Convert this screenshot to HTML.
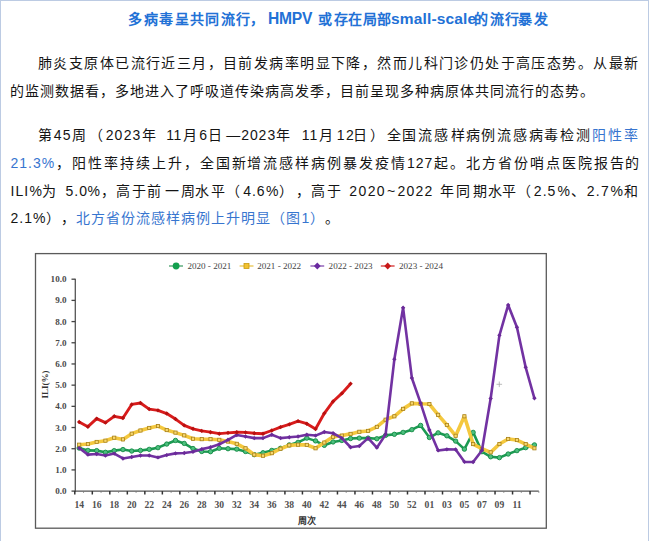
<!DOCTYPE html>
<html lang="zh-CN"><head><meta charset="utf-8">
<style>
html,body{margin:0;padding:0;}
body{text-spacing-trim:space-all;width:650px;height:541px;overflow:hidden;background:#fff;position:relative;font-family:"Liberation Sans",sans-serif;color:#222;}
.bl{position:absolute;left:0;top:0;width:1px;height:541px;background:#bccbe3;}
.bt{position:absolute;left:0;top:0;width:649px;height:1px;background:#bccbe3;}
.br{position:absolute;left:648px;top:0;width:1px;height:541px;background:#bccbe3;}
.t{position:absolute;left:0;top:0;width:650px;text-align:left;white-space:nowrap;}
.title{position:absolute;left:128px;top:9px;font-size:14px;font-weight:bold;color:#2271d6;white-space:nowrap;line-height:18px;}
.ln{position:absolute;font-size:14px;letter-spacing:1px;line-height:20px;white-space:nowrap;color:#141414;}
.j{text-align:justify;text-align-last:justify;}
.al{position:absolute;left:0;width:650px;height:20px;font-size:14px;line-height:20px;color:#141414;}
.al span{position:absolute;top:0;white-space:pre;}
.b{color:#3775cf;}
.chart{position:absolute;left:0;top:0;}
.yl{font-family:"Liberation Serif",serif;font-size:9.1px;font-weight:bold;fill:#4a4a4a;text-anchor:end;}
.xl{font-family:"Liberation Serif",serif;font-size:9.6px;font-weight:bold;fill:#505050;text-anchor:middle;}
.xt{font-family:"Liberation Serif",serif;font-size:9px;font-weight:bold;fill:#333;text-anchor:middle;}
.yt{font-family:"Liberation Serif",serif;font-size:9px;font-weight:bold;fill:#333;text-anchor:middle;}
.lg{font-family:"Liberation Serif",serif;font-size:9.1px;fill:#444;}
</style></head><body>
<div class="bl"></div><div class="bt"></div><div class="br"></div>
<div class="title" style="left:127.9px;top:10.2px">多</div><div class="title" style="left:144.1px;top:10.2px">病</div><div class="title" style="left:159.4px;top:10.2px">毒</div><div class="title" style="left:174.9px;top:10.2px">呈</div><div class="title" style="left:190.3px;top:10.2px">共</div><div class="title" style="left:205.0px;top:10.2px">同</div><div class="title" style="left:220.7px;top:10.2px">流</div><div class="title" style="left:236.4px;top:10.2px">行</div><div class="title" style="left:250.1px;top:10.2px">，</div><div class="title" style="left:317.5px;top:10.2px">或</div><div class="title" style="left:333.7px;top:10.2px">存</div><div class="title" style="left:348.4px;top:10.2px">在</div><div class="title" style="left:363.1px;top:10.2px">局</div><div class="title" style="left:377.4px;top:10.2px">部</div><div class="title" style="left:473.7px;top:10.2px">的</div><div class="title" style="left:489.5px;top:10.2px">流</div><div class="title" style="left:504.7px;top:10.2px">行</div><div class="title" style="left:518.0px;top:10.2px">暴</div><div class="title" style="left:533.7px;top:10.2px">发</div>
<div class="title" style="left:268px;top:9.7px;font-size:15.6px;letter-spacing:-0.2px">HMPV</div>
<div class="title" style="left:391.1px;top:10.4px;font-size:15.5px;letter-spacing:0.15px">small-scale</div>
<div class="ln j" style="left:38px;top:53px;width:601px">肺炎支原体已流行近三月，目前发病率明显下降，然而儿科门诊仍处于高压态势。从最新</div>
<div class="ln" style="left:10px;top:80.6px;">的监测数据看，多地进入了呼吸道传染病高发季，目前呈现多种病原体共同流行的态势。</div>
<div class="al" style="top:125px"><span style="left:37.6px">第</span><span style="left:53.84px">4</span><span style="left:62.72px">5</span><span style="left:71.6px">周</span><span style="left:89px">（</span><span style="left:105.64px">2</span><span style="left:114.42px">0</span><span style="left:123.72px">2</span><span style="left:132.6px">3</span><span style="left:141.58px">年</span><span style="left:166.31px">1</span><span style="left:173.57px">1</span><span style="left:182.84px">月</span><span style="left:199.14px">6</span><span style="left:208.42px">日</span><span style="left:226.22px">—</span><span style="left:241.22px">2</span><span style="left:249.9px">0</span><span style="left:258.58px">2</span><span style="left:267.38px">3</span><span style="left:276.16px">年</span><span style="left:301.78px">1</span><span style="left:309.55px">1</span><span style="left:318.82px">月</span><span style="left:336.7px">1</span><span style="left:345.99px">2</span><span style="left:353.18px">日</span><span style="left:370.46px">）</span><span style="left:386.61px">全</span><span style="left:402.25px">国</span><span style="left:418.39px">流</span><span style="left:434.05px">感</span><span style="left:450.69px">样</span><span style="left:465.83px">病</span><span style="left:480.87px">例</span><span style="left:497.03px">流</span><span style="left:512.67px">感</span><span style="left:528.71px">病</span><span style="left:544.05px">毒</span><span style="left:560.21px">检</span><span style="left:575.55px">测</span><span class="b" style="left:591.7px">阳</span><span class="b" style="left:607.84px">性</span><span class="b" style="left:623.98px">率</span></div>
<div class="ln j" style="left:10.5px;top:153px;width:630px"><span class="b">21.3%</span>，阳性率持续上升，全国新增流感样病例暴发疫情127起。北方省份哨点医院报告的</div>
<div class="al" style="top:181px"><span style="left:10.5px">I</span><span style="left:15.38px">L</span><span style="left:24.17px">I</span><span style="left:29.56px">%</span><span style="left:42.0px">为</span><span style="left:65.52px">5</span><span style="left:74.31px">.</span><span style="left:79.2px">0</span><span style="left:87.48px">%</span><span style="left:101.44px">，</span><span style="left:116.42px">高</span><span style="left:131.85px">于</span><span style="left:147.39px">前</span><span style="left:165.04px">一</span><span style="left:181.17px">周</span><span style="left:194.92px">水</span><span style="left:211.07px">平</span><span style="left:226.0px">（</span><span style="left:243.14px">4</span><span style="left:251.93px">.</span><span style="left:256.82px">6</span><span style="left:266.11px">%</span><span style="left:278.95px">）</span><span style="left:295.84px">，</span><span style="left:311.07px">高</span><span style="left:327.12px">于</span><span style="left:349.19px">2</span><span style="left:358.47px">0</span><span style="left:367.67px">2</span><span style="left:376.85px">0</span><span style="left:386.93px">~</span><span style="left:397.52px">2</span><span style="left:406.6px">0</span><span style="left:415.58px">2</span><span style="left:424.58px">2</span><span style="left:440.4px">年</span><span style="left:455.83px">同</span><span style="left:472.57px">期</span><span style="left:487.91px">水</span><span style="left:502.35px">平</span><span style="left:516.8px">（</span><span style="left:533.83px">2</span><span style="left:542.73px">.</span><span style="left:547.62px">5</span><span style="left:557.5px">%</span><span style="left:570.85px">、</span><span style="left:586.73px">2</span><span style="left:595.81px">.</span><span style="left:601.0px">7</span><span style="left:610.4px">%</span><span style="left:623.84px">和</span></div>
<div class="ln" style="left:10.5px;top:208px;">2.1%），<span class="b">北方省份流感样病例上升明显（图1）</span>。</div>
<svg class="chart" width="650" height="541" viewBox="0 0 650 541">
<rect x="35.5" y="253.6" width="510.8" height="274.6" fill="#fff" stroke="#5a5a5a" stroke-width="1.3"/>
<line x1="75.3" y1="278.70" x2="75.3" y2="491.70" stroke="#555" stroke-width="1.3"/>
<line x1="74.80" y1="491.10" x2="538.82" y2="491.10" stroke="#555" stroke-width="1.3"/>
<line x1="71.5" y1="491.10" x2="75.3" y2="491.10" stroke="#444" stroke-width="1.3"/>
<text x="66.5" y="494.20" class="yl">0.0</text>
<line x1="71.5" y1="469.91" x2="75.3" y2="469.91" stroke="#444" stroke-width="1.3"/>
<text x="66.5" y="473.01" class="yl">1.0</text>
<line x1="71.5" y1="448.72" x2="75.3" y2="448.72" stroke="#444" stroke-width="1.3"/>
<text x="66.5" y="451.82" class="yl">2.0</text>
<line x1="71.5" y1="427.53" x2="75.3" y2="427.53" stroke="#444" stroke-width="1.3"/>
<text x="66.5" y="430.63" class="yl">3.0</text>
<line x1="71.5" y1="406.34" x2="75.3" y2="406.34" stroke="#444" stroke-width="1.3"/>
<text x="66.5" y="409.44" class="yl">4.0</text>
<line x1="71.5" y1="385.15" x2="75.3" y2="385.15" stroke="#444" stroke-width="1.3"/>
<text x="66.5" y="388.25" class="yl">5.0</text>
<line x1="71.5" y1="363.96" x2="75.3" y2="363.96" stroke="#444" stroke-width="1.3"/>
<text x="66.5" y="367.06" class="yl">6.0</text>
<line x1="71.5" y1="342.77" x2="75.3" y2="342.77" stroke="#444" stroke-width="1.3"/>
<text x="66.5" y="345.87" class="yl">7.0</text>
<line x1="71.5" y1="321.58" x2="75.3" y2="321.58" stroke="#444" stroke-width="1.3"/>
<text x="66.5" y="324.68" class="yl">8.0</text>
<line x1="71.5" y1="300.39" x2="75.3" y2="300.39" stroke="#444" stroke-width="1.3"/>
<text x="66.5" y="303.49" class="yl">9.0</text>
<line x1="71.5" y1="279.20" x2="75.3" y2="279.20" stroke="#444" stroke-width="1.3"/>
<text x="66.5" y="282.30" class="yl">10.0</text>
<line x1="74.80" y1="491.10" x2="74.80" y2="494.50" stroke="#333" stroke-width="1.5"/>
<line x1="83.55" y1="491.10" x2="83.55" y2="492.90" stroke="#777" stroke-width="0.8"/>
<line x1="92.31" y1="491.10" x2="92.31" y2="494.50" stroke="#333" stroke-width="1.5"/>
<line x1="101.06" y1="491.10" x2="101.06" y2="492.90" stroke="#777" stroke-width="0.8"/>
<line x1="109.82" y1="491.10" x2="109.82" y2="494.50" stroke="#333" stroke-width="1.5"/>
<line x1="118.58" y1="491.10" x2="118.58" y2="492.90" stroke="#777" stroke-width="0.8"/>
<line x1="127.33" y1="491.10" x2="127.33" y2="494.50" stroke="#333" stroke-width="1.5"/>
<line x1="136.09" y1="491.10" x2="136.09" y2="492.90" stroke="#777" stroke-width="0.8"/>
<line x1="144.84" y1="491.10" x2="144.84" y2="494.50" stroke="#333" stroke-width="1.5"/>
<line x1="153.59" y1="491.10" x2="153.59" y2="492.90" stroke="#777" stroke-width="0.8"/>
<line x1="162.35" y1="491.10" x2="162.35" y2="494.50" stroke="#333" stroke-width="1.5"/>
<line x1="171.11" y1="491.10" x2="171.11" y2="492.90" stroke="#777" stroke-width="0.8"/>
<line x1="179.86" y1="491.10" x2="179.86" y2="494.50" stroke="#333" stroke-width="1.5"/>
<line x1="188.62" y1="491.10" x2="188.62" y2="492.90" stroke="#777" stroke-width="0.8"/>
<line x1="197.37" y1="491.10" x2="197.37" y2="494.50" stroke="#333" stroke-width="1.5"/>
<line x1="206.12" y1="491.10" x2="206.12" y2="492.90" stroke="#777" stroke-width="0.8"/>
<line x1="214.88" y1="491.10" x2="214.88" y2="494.50" stroke="#333" stroke-width="1.5"/>
<line x1="223.63" y1="491.10" x2="223.63" y2="492.90" stroke="#777" stroke-width="0.8"/>
<line x1="232.39" y1="491.10" x2="232.39" y2="494.50" stroke="#333" stroke-width="1.5"/>
<line x1="241.15" y1="491.10" x2="241.15" y2="492.90" stroke="#777" stroke-width="0.8"/>
<line x1="249.90" y1="491.10" x2="249.90" y2="494.50" stroke="#333" stroke-width="1.5"/>
<line x1="258.66" y1="491.10" x2="258.66" y2="492.90" stroke="#777" stroke-width="0.8"/>
<line x1="267.41" y1="491.10" x2="267.41" y2="494.50" stroke="#333" stroke-width="1.5"/>
<line x1="276.17" y1="491.10" x2="276.17" y2="492.90" stroke="#777" stroke-width="0.8"/>
<line x1="284.92" y1="491.10" x2="284.92" y2="494.50" stroke="#333" stroke-width="1.5"/>
<line x1="293.68" y1="491.10" x2="293.68" y2="492.90" stroke="#777" stroke-width="0.8"/>
<line x1="302.43" y1="491.10" x2="302.43" y2="494.50" stroke="#333" stroke-width="1.5"/>
<line x1="311.19" y1="491.10" x2="311.19" y2="492.90" stroke="#777" stroke-width="0.8"/>
<line x1="319.94" y1="491.10" x2="319.94" y2="494.50" stroke="#333" stroke-width="1.5"/>
<line x1="328.69" y1="491.10" x2="328.69" y2="492.90" stroke="#777" stroke-width="0.8"/>
<line x1="337.45" y1="491.10" x2="337.45" y2="494.50" stroke="#333" stroke-width="1.5"/>
<line x1="346.21" y1="491.10" x2="346.21" y2="492.90" stroke="#777" stroke-width="0.8"/>
<line x1="354.96" y1="491.10" x2="354.96" y2="494.50" stroke="#333" stroke-width="1.5"/>
<line x1="363.72" y1="491.10" x2="363.72" y2="492.90" stroke="#777" stroke-width="0.8"/>
<line x1="372.47" y1="491.10" x2="372.47" y2="494.50" stroke="#333" stroke-width="1.5"/>
<line x1="381.23" y1="491.10" x2="381.23" y2="492.90" stroke="#777" stroke-width="0.8"/>
<line x1="389.98" y1="491.10" x2="389.98" y2="494.50" stroke="#333" stroke-width="1.5"/>
<line x1="398.74" y1="491.10" x2="398.74" y2="492.90" stroke="#777" stroke-width="0.8"/>
<line x1="407.49" y1="491.10" x2="407.49" y2="494.50" stroke="#333" stroke-width="1.5"/>
<line x1="416.25" y1="491.10" x2="416.25" y2="492.90" stroke="#777" stroke-width="0.8"/>
<line x1="425.00" y1="491.10" x2="425.00" y2="494.50" stroke="#333" stroke-width="1.5"/>
<line x1="433.76" y1="491.10" x2="433.76" y2="492.90" stroke="#777" stroke-width="0.8"/>
<line x1="442.51" y1="491.10" x2="442.51" y2="494.50" stroke="#333" stroke-width="1.5"/>
<line x1="451.27" y1="491.10" x2="451.27" y2="492.90" stroke="#777" stroke-width="0.8"/>
<line x1="460.02" y1="491.10" x2="460.02" y2="494.50" stroke="#333" stroke-width="1.5"/>
<line x1="468.78" y1="491.10" x2="468.78" y2="492.90" stroke="#777" stroke-width="0.8"/>
<line x1="477.53" y1="491.10" x2="477.53" y2="494.50" stroke="#333" stroke-width="1.5"/>
<line x1="486.29" y1="491.10" x2="486.29" y2="492.90" stroke="#777" stroke-width="0.8"/>
<line x1="495.04" y1="491.10" x2="495.04" y2="494.50" stroke="#333" stroke-width="1.5"/>
<line x1="503.80" y1="491.10" x2="503.80" y2="492.90" stroke="#777" stroke-width="0.8"/>
<line x1="512.55" y1="491.10" x2="512.55" y2="494.50" stroke="#333" stroke-width="1.5"/>
<line x1="521.31" y1="491.10" x2="521.31" y2="492.90" stroke="#777" stroke-width="0.8"/>
<line x1="530.06" y1="491.10" x2="530.06" y2="494.50" stroke="#333" stroke-width="1.5"/>
<line x1="538.82" y1="491.10" x2="538.82" y2="492.90" stroke="#777" stroke-width="0.8"/>
<text x="79.18" y="507.90" class="xl">14</text>
<text x="96.69" y="507.90" class="xl">16</text>
<text x="114.20" y="507.90" class="xl">18</text>
<text x="131.71" y="507.90" class="xl">20</text>
<text x="149.22" y="507.90" class="xl">22</text>
<text x="166.73" y="507.90" class="xl">24</text>
<text x="184.24" y="507.90" class="xl">26</text>
<text x="201.75" y="507.90" class="xl">28</text>
<text x="219.26" y="507.90" class="xl">30</text>
<text x="236.77" y="507.90" class="xl">32</text>
<text x="254.28" y="507.90" class="xl">34</text>
<text x="271.79" y="507.90" class="xl">36</text>
<text x="289.30" y="507.90" class="xl">38</text>
<text x="306.81" y="507.90" class="xl">40</text>
<text x="324.32" y="507.90" class="xl">42</text>
<text x="341.83" y="507.90" class="xl">44</text>
<text x="359.34" y="507.90" class="xl">46</text>
<text x="376.85" y="507.90" class="xl">48</text>
<text x="394.36" y="507.90" class="xl">50</text>
<text x="411.87" y="507.90" class="xl">52</text>
<text x="429.38" y="507.90" class="xl">01</text>
<text x="446.89" y="507.90" class="xl">03</text>
<text x="464.40" y="507.90" class="xl">05</text>
<text x="481.91" y="507.90" class="xl">07</text>
<text x="499.42" y="507.90" class="xl">09</text>
<text x="516.93" y="507.90" class="xl">11</text>
<text x="307" y="523.5" class="xt">周次</text>
<text transform="translate(47.6,384.4) rotate(-90)" class="yt">ILI(%)</text>
<line x1="169" y1="266" x2="183" y2="266" stroke="#3a9a60" stroke-width="1.2"/><circle cx="176.1" cy="266" r="3.4" fill="#12a04e"/><text x="187.4" y="269.3" class="lg">2020 - 2021</text>
<line x1="239.6" y1="266" x2="253.5" y2="266" stroke="#e8c040" stroke-width="1.2"/><rect x="244" y="263.5" width="5" height="5" fill="#f2c230" stroke="#c89a10" stroke-width="0.8"/><text x="257.2" y="269.3" class="lg">2021 - 2022</text>
<line x1="310.4" y1="266" x2="324.2" y2="266" stroke="#7a40a8" stroke-width="1.2"/><path d="M317.3 262.6 L320.7 266 L317.3 269.4 L313.9 266 Z" fill="#6a2aa0"/><text x="328.6" y="269.3" class="lg">2022 - 2023</text>
<line x1="380.8" y1="266" x2="394.6" y2="266" stroke="#d02020" stroke-width="1.2"/><path d="M387.7 262.6 L391.1 266 L387.7 269.4 L384.3 266 Z" fill="#c81818"/><text x="399" y="269.3" class="lg">2023 - 2024</text>
<polyline points="79.18,448.08 87.93,450.42 96.69,450.63 105.44,452.32 114.20,450.63 122.95,449.57 131.71,451.05 140.46,450.42 149.22,449.36 157.97,447.66 166.73,444.06 175.48,440.46 184.24,443.42 192.99,448.51 201.75,451.47 210.50,451.69 219.26,448.30 228.01,448.72 236.77,449.14 245.52,451.47 254.28,454.65 263.03,452.75 271.79,450.42 280.54,448.30 289.30,444.91 298.05,442.36 306.81,438.12 315.56,440.88 324.32,445.33 333.07,441.94 341.83,440.46 350.58,438.55 359.34,438.12 368.09,438.12 376.85,438.76 385.60,435.37 394.36,434.31 403.11,432.40 411.87,429.65 420.62,425.41 429.38,437.49 438.13,432.83 446.89,435.79 455.64,441.09 464.40,449.14 473.15,432.40 481.91,451.69 490.66,456.77 499.42,457.62 508.17,454.02 516.93,450.63 525.68,447.66 534.44,444.91" fill="none" stroke="#1c9a52" stroke-width="2.6" stroke-linejoin="round"/>
<circle cx="79.18" cy="448.08" r="2.2" fill="#4cbf7e" stroke="#138a44" stroke-width="0.9"/>
<circle cx="87.93" cy="450.42" r="2.2" fill="#4cbf7e" stroke="#138a44" stroke-width="0.9"/>
<circle cx="96.69" cy="450.63" r="2.2" fill="#4cbf7e" stroke="#138a44" stroke-width="0.9"/>
<circle cx="105.44" cy="452.32" r="2.2" fill="#4cbf7e" stroke="#138a44" stroke-width="0.9"/>
<circle cx="114.20" cy="450.63" r="2.2" fill="#4cbf7e" stroke="#138a44" stroke-width="0.9"/>
<circle cx="122.95" cy="449.57" r="2.2" fill="#4cbf7e" stroke="#138a44" stroke-width="0.9"/>
<circle cx="131.71" cy="451.05" r="2.2" fill="#4cbf7e" stroke="#138a44" stroke-width="0.9"/>
<circle cx="140.46" cy="450.42" r="2.2" fill="#4cbf7e" stroke="#138a44" stroke-width="0.9"/>
<circle cx="149.22" cy="449.36" r="2.2" fill="#4cbf7e" stroke="#138a44" stroke-width="0.9"/>
<circle cx="157.97" cy="447.66" r="2.2" fill="#4cbf7e" stroke="#138a44" stroke-width="0.9"/>
<circle cx="166.73" cy="444.06" r="2.2" fill="#4cbf7e" stroke="#138a44" stroke-width="0.9"/>
<circle cx="175.48" cy="440.46" r="2.2" fill="#4cbf7e" stroke="#138a44" stroke-width="0.9"/>
<circle cx="184.24" cy="443.42" r="2.2" fill="#4cbf7e" stroke="#138a44" stroke-width="0.9"/>
<circle cx="192.99" cy="448.51" r="2.2" fill="#4cbf7e" stroke="#138a44" stroke-width="0.9"/>
<circle cx="201.75" cy="451.47" r="2.2" fill="#4cbf7e" stroke="#138a44" stroke-width="0.9"/>
<circle cx="210.50" cy="451.69" r="2.2" fill="#4cbf7e" stroke="#138a44" stroke-width="0.9"/>
<circle cx="219.26" cy="448.30" r="2.2" fill="#4cbf7e" stroke="#138a44" stroke-width="0.9"/>
<circle cx="228.01" cy="448.72" r="2.2" fill="#4cbf7e" stroke="#138a44" stroke-width="0.9"/>
<circle cx="236.77" cy="449.14" r="2.2" fill="#4cbf7e" stroke="#138a44" stroke-width="0.9"/>
<circle cx="245.52" cy="451.47" r="2.2" fill="#4cbf7e" stroke="#138a44" stroke-width="0.9"/>
<circle cx="254.28" cy="454.65" r="2.2" fill="#4cbf7e" stroke="#138a44" stroke-width="0.9"/>
<circle cx="263.03" cy="452.75" r="2.2" fill="#4cbf7e" stroke="#138a44" stroke-width="0.9"/>
<circle cx="271.79" cy="450.42" r="2.2" fill="#4cbf7e" stroke="#138a44" stroke-width="0.9"/>
<circle cx="280.54" cy="448.30" r="2.2" fill="#4cbf7e" stroke="#138a44" stroke-width="0.9"/>
<circle cx="289.30" cy="444.91" r="2.2" fill="#4cbf7e" stroke="#138a44" stroke-width="0.9"/>
<circle cx="298.05" cy="442.36" r="2.2" fill="#4cbf7e" stroke="#138a44" stroke-width="0.9"/>
<circle cx="306.81" cy="438.12" r="2.2" fill="#4cbf7e" stroke="#138a44" stroke-width="0.9"/>
<circle cx="315.56" cy="440.88" r="2.2" fill="#4cbf7e" stroke="#138a44" stroke-width="0.9"/>
<circle cx="324.32" cy="445.33" r="2.2" fill="#4cbf7e" stroke="#138a44" stroke-width="0.9"/>
<circle cx="333.07" cy="441.94" r="2.2" fill="#4cbf7e" stroke="#138a44" stroke-width="0.9"/>
<circle cx="341.83" cy="440.46" r="2.2" fill="#4cbf7e" stroke="#138a44" stroke-width="0.9"/>
<circle cx="350.58" cy="438.55" r="2.2" fill="#4cbf7e" stroke="#138a44" stroke-width="0.9"/>
<circle cx="359.34" cy="438.12" r="2.2" fill="#4cbf7e" stroke="#138a44" stroke-width="0.9"/>
<circle cx="368.09" cy="438.12" r="2.2" fill="#4cbf7e" stroke="#138a44" stroke-width="0.9"/>
<circle cx="376.85" cy="438.76" r="2.2" fill="#4cbf7e" stroke="#138a44" stroke-width="0.9"/>
<circle cx="385.60" cy="435.37" r="2.2" fill="#4cbf7e" stroke="#138a44" stroke-width="0.9"/>
<circle cx="394.36" cy="434.31" r="2.2" fill="#4cbf7e" stroke="#138a44" stroke-width="0.9"/>
<circle cx="403.11" cy="432.40" r="2.2" fill="#4cbf7e" stroke="#138a44" stroke-width="0.9"/>
<circle cx="411.87" cy="429.65" r="2.2" fill="#4cbf7e" stroke="#138a44" stroke-width="0.9"/>
<circle cx="420.62" cy="425.41" r="2.2" fill="#4cbf7e" stroke="#138a44" stroke-width="0.9"/>
<circle cx="429.38" cy="437.49" r="2.2" fill="#4cbf7e" stroke="#138a44" stroke-width="0.9"/>
<circle cx="438.13" cy="432.83" r="2.2" fill="#4cbf7e" stroke="#138a44" stroke-width="0.9"/>
<circle cx="446.89" cy="435.79" r="2.2" fill="#4cbf7e" stroke="#138a44" stroke-width="0.9"/>
<circle cx="455.64" cy="441.09" r="2.2" fill="#4cbf7e" stroke="#138a44" stroke-width="0.9"/>
<circle cx="464.40" cy="449.14" r="2.2" fill="#4cbf7e" stroke="#138a44" stroke-width="0.9"/>
<circle cx="473.15" cy="432.40" r="2.2" fill="#4cbf7e" stroke="#138a44" stroke-width="0.9"/>
<circle cx="481.91" cy="451.69" r="2.2" fill="#4cbf7e" stroke="#138a44" stroke-width="0.9"/>
<circle cx="490.66" cy="456.77" r="2.2" fill="#4cbf7e" stroke="#138a44" stroke-width="0.9"/>
<circle cx="499.42" cy="457.62" r="2.2" fill="#4cbf7e" stroke="#138a44" stroke-width="0.9"/>
<circle cx="508.17" cy="454.02" r="2.2" fill="#4cbf7e" stroke="#138a44" stroke-width="0.9"/>
<circle cx="516.93" cy="450.63" r="2.2" fill="#4cbf7e" stroke="#138a44" stroke-width="0.9"/>
<circle cx="525.68" cy="447.66" r="2.2" fill="#4cbf7e" stroke="#138a44" stroke-width="0.9"/>
<circle cx="534.44" cy="444.91" r="2.2" fill="#4cbf7e" stroke="#138a44" stroke-width="0.9"/>
<polyline points="79.18,444.69 87.93,444.06 96.69,441.94 105.44,440.67 114.20,437.70 122.95,439.40 131.71,433.68 140.46,430.50 149.22,427.95 157.97,426.05 166.73,430.07 175.48,432.62 184.24,435.37 192.99,438.76 201.75,439.18 210.50,439.18 219.26,439.82 228.01,441.52 236.77,443.85 245.52,448.30 254.28,454.65 263.03,455.71 271.79,453.17 280.54,448.72 289.30,445.33 298.05,444.69 306.81,444.91 315.56,448.30 324.32,442.57 333.07,436.85 341.83,435.58 350.58,433.89 359.34,431.77 368.09,430.92 376.85,426.89 385.60,419.69 394.36,416.30 403.11,408.88 411.87,403.37 420.62,403.80 429.38,404.01 438.13,414.82 446.89,424.99 455.64,435.79 464.40,416.30 473.15,444.06 481.91,448.72 490.66,452.32 499.42,444.06 508.17,438.97 516.93,440.03 525.68,444.06 534.44,448.30" fill="none" stroke="#f4c83e" stroke-width="3.6" stroke-linejoin="round"/>
<rect x="77.58" y="443.09" width="3.2" height="3.2" fill="#f8d870" stroke="#a8801a" stroke-width="0.8"/>
<rect x="86.33" y="442.46" width="3.2" height="3.2" fill="#f8d870" stroke="#a8801a" stroke-width="0.8"/>
<rect x="95.09" y="440.34" width="3.2" height="3.2" fill="#f8d870" stroke="#a8801a" stroke-width="0.8"/>
<rect x="103.84" y="439.07" width="3.2" height="3.2" fill="#f8d870" stroke="#a8801a" stroke-width="0.8"/>
<rect x="112.60" y="436.10" width="3.2" height="3.2" fill="#f8d870" stroke="#a8801a" stroke-width="0.8"/>
<rect x="121.35" y="437.80" width="3.2" height="3.2" fill="#f8d870" stroke="#a8801a" stroke-width="0.8"/>
<rect x="130.11" y="432.08" width="3.2" height="3.2" fill="#f8d870" stroke="#a8801a" stroke-width="0.8"/>
<rect x="138.86" y="428.90" width="3.2" height="3.2" fill="#f8d870" stroke="#a8801a" stroke-width="0.8"/>
<rect x="147.62" y="426.35" width="3.2" height="3.2" fill="#f8d870" stroke="#a8801a" stroke-width="0.8"/>
<rect x="156.37" y="424.45" width="3.2" height="3.2" fill="#f8d870" stroke="#a8801a" stroke-width="0.8"/>
<rect x="165.13" y="428.47" width="3.2" height="3.2" fill="#f8d870" stroke="#a8801a" stroke-width="0.8"/>
<rect x="173.88" y="431.02" width="3.2" height="3.2" fill="#f8d870" stroke="#a8801a" stroke-width="0.8"/>
<rect x="182.64" y="433.77" width="3.2" height="3.2" fill="#f8d870" stroke="#a8801a" stroke-width="0.8"/>
<rect x="191.39" y="437.16" width="3.2" height="3.2" fill="#f8d870" stroke="#a8801a" stroke-width="0.8"/>
<rect x="200.15" y="437.58" width="3.2" height="3.2" fill="#f8d870" stroke="#a8801a" stroke-width="0.8"/>
<rect x="208.90" y="437.58" width="3.2" height="3.2" fill="#f8d870" stroke="#a8801a" stroke-width="0.8"/>
<rect x="217.66" y="438.22" width="3.2" height="3.2" fill="#f8d870" stroke="#a8801a" stroke-width="0.8"/>
<rect x="226.41" y="439.92" width="3.2" height="3.2" fill="#f8d870" stroke="#a8801a" stroke-width="0.8"/>
<rect x="235.17" y="442.25" width="3.2" height="3.2" fill="#f8d870" stroke="#a8801a" stroke-width="0.8"/>
<rect x="243.92" y="446.70" width="3.2" height="3.2" fill="#f8d870" stroke="#a8801a" stroke-width="0.8"/>
<rect x="252.68" y="453.05" width="3.2" height="3.2" fill="#f8d870" stroke="#a8801a" stroke-width="0.8"/>
<rect x="261.43" y="454.11" width="3.2" height="3.2" fill="#f8d870" stroke="#a8801a" stroke-width="0.8"/>
<rect x="270.19" y="451.57" width="3.2" height="3.2" fill="#f8d870" stroke="#a8801a" stroke-width="0.8"/>
<rect x="278.94" y="447.12" width="3.2" height="3.2" fill="#f8d870" stroke="#a8801a" stroke-width="0.8"/>
<rect x="287.70" y="443.73" width="3.2" height="3.2" fill="#f8d870" stroke="#a8801a" stroke-width="0.8"/>
<rect x="296.45" y="443.09" width="3.2" height="3.2" fill="#f8d870" stroke="#a8801a" stroke-width="0.8"/>
<rect x="305.21" y="443.31" width="3.2" height="3.2" fill="#f8d870" stroke="#a8801a" stroke-width="0.8"/>
<rect x="313.96" y="446.70" width="3.2" height="3.2" fill="#f8d870" stroke="#a8801a" stroke-width="0.8"/>
<rect x="322.72" y="440.97" width="3.2" height="3.2" fill="#f8d870" stroke="#a8801a" stroke-width="0.8"/>
<rect x="331.47" y="435.25" width="3.2" height="3.2" fill="#f8d870" stroke="#a8801a" stroke-width="0.8"/>
<rect x="340.23" y="433.98" width="3.2" height="3.2" fill="#f8d870" stroke="#a8801a" stroke-width="0.8"/>
<rect x="348.98" y="432.29" width="3.2" height="3.2" fill="#f8d870" stroke="#a8801a" stroke-width="0.8"/>
<rect x="357.74" y="430.17" width="3.2" height="3.2" fill="#f8d870" stroke="#a8801a" stroke-width="0.8"/>
<rect x="366.49" y="429.32" width="3.2" height="3.2" fill="#f8d870" stroke="#a8801a" stroke-width="0.8"/>
<rect x="375.25" y="425.29" width="3.2" height="3.2" fill="#f8d870" stroke="#a8801a" stroke-width="0.8"/>
<rect x="384.00" y="418.09" width="3.2" height="3.2" fill="#f8d870" stroke="#a8801a" stroke-width="0.8"/>
<rect x="392.76" y="414.70" width="3.2" height="3.2" fill="#f8d870" stroke="#a8801a" stroke-width="0.8"/>
<rect x="401.51" y="407.28" width="3.2" height="3.2" fill="#f8d870" stroke="#a8801a" stroke-width="0.8"/>
<rect x="410.27" y="401.77" width="3.2" height="3.2" fill="#f8d870" stroke="#a8801a" stroke-width="0.8"/>
<rect x="419.02" y="402.20" width="3.2" height="3.2" fill="#f8d870" stroke="#a8801a" stroke-width="0.8"/>
<rect x="427.78" y="402.41" width="3.2" height="3.2" fill="#f8d870" stroke="#a8801a" stroke-width="0.8"/>
<rect x="436.53" y="413.22" width="3.2" height="3.2" fill="#f8d870" stroke="#a8801a" stroke-width="0.8"/>
<rect x="445.29" y="423.39" width="3.2" height="3.2" fill="#f8d870" stroke="#a8801a" stroke-width="0.8"/>
<rect x="454.04" y="434.19" width="3.2" height="3.2" fill="#f8d870" stroke="#a8801a" stroke-width="0.8"/>
<rect x="462.80" y="414.70" width="3.2" height="3.2" fill="#f8d870" stroke="#a8801a" stroke-width="0.8"/>
<rect x="471.55" y="442.46" width="3.2" height="3.2" fill="#f8d870" stroke="#a8801a" stroke-width="0.8"/>
<rect x="480.31" y="447.12" width="3.2" height="3.2" fill="#f8d870" stroke="#a8801a" stroke-width="0.8"/>
<rect x="489.06" y="450.72" width="3.2" height="3.2" fill="#f8d870" stroke="#a8801a" stroke-width="0.8"/>
<rect x="497.82" y="442.46" width="3.2" height="3.2" fill="#f8d870" stroke="#a8801a" stroke-width="0.8"/>
<rect x="506.57" y="437.37" width="3.2" height="3.2" fill="#f8d870" stroke="#a8801a" stroke-width="0.8"/>
<rect x="515.33" y="438.43" width="3.2" height="3.2" fill="#f8d870" stroke="#a8801a" stroke-width="0.8"/>
<rect x="524.08" y="442.46" width="3.2" height="3.2" fill="#f8d870" stroke="#a8801a" stroke-width="0.8"/>
<rect x="532.84" y="446.70" width="3.2" height="3.2" fill="#f8d870" stroke="#a8801a" stroke-width="0.8"/>
<polyline points="79.18,448.08 87.93,454.65 96.69,454.02 105.44,455.50 114.20,453.59 122.95,458.47 131.71,456.98 140.46,455.50 149.22,455.50 157.97,457.41 166.73,455.08 175.48,453.38 184.24,452.96 192.99,451.69 201.75,449.14 210.50,447.24 219.26,444.27 228.01,439.82 236.77,434.95 245.52,436.43 254.28,438.12 263.03,438.12 271.79,434.73 280.54,438.12 289.30,437.28 298.05,436.43 306.81,434.73 315.56,435.58 324.32,431.98 333.07,433.25 341.83,438.12 350.58,447.24 359.34,445.97 368.09,438.12 376.85,447.66 385.60,434.52 394.36,359.30 403.11,307.81 411.87,377.95 420.62,403.16 429.38,430.07 438.13,450.42 446.89,449.36 455.64,449.57 464.40,461.86 473.15,462.07 481.91,450.42 490.66,398.50 499.42,335.35 508.17,305.05 516.93,327.30 525.68,367.35 534.44,398.29" fill="none" stroke="#7232a2" stroke-width="2.6" stroke-linejoin="round"/>
<path d="M79.18 445.88L81.38 448.08L79.18 450.28L76.98 448.08Z" fill="#6a2a98"/>
<path d="M87.93 452.45L90.13 454.65L87.93 456.85L85.73 454.65Z" fill="#6a2a98"/>
<path d="M96.69 451.82L98.89 454.02L96.69 456.22L94.49 454.02Z" fill="#6a2a98"/>
<path d="M105.44 453.30L107.64 455.50L105.44 457.70L103.24 455.50Z" fill="#6a2a98"/>
<path d="M114.20 451.39L116.40 453.59L114.20 455.79L112.00 453.59Z" fill="#6a2a98"/>
<path d="M122.95 456.27L125.15 458.47L122.95 460.67L120.75 458.47Z" fill="#6a2a98"/>
<path d="M131.71 454.78L133.91 456.98L131.71 459.18L129.51 456.98Z" fill="#6a2a98"/>
<path d="M140.46 453.30L142.66 455.50L140.46 457.70L138.26 455.50Z" fill="#6a2a98"/>
<path d="M149.22 453.30L151.42 455.50L149.22 457.70L147.02 455.50Z" fill="#6a2a98"/>
<path d="M157.97 455.21L160.17 457.41L157.97 459.61L155.77 457.41Z" fill="#6a2a98"/>
<path d="M166.73 452.88L168.93 455.08L166.73 457.28L164.53 455.08Z" fill="#6a2a98"/>
<path d="M175.48 451.18L177.68 453.38L175.48 455.58L173.28 453.38Z" fill="#6a2a98"/>
<path d="M184.24 450.76L186.44 452.96L184.24 455.16L182.04 452.96Z" fill="#6a2a98"/>
<path d="M192.99 449.49L195.19 451.69L192.99 453.89L190.79 451.69Z" fill="#6a2a98"/>
<path d="M201.75 446.94L203.95 449.14L201.75 451.34L199.55 449.14Z" fill="#6a2a98"/>
<path d="M210.50 445.04L212.70 447.24L210.50 449.44L208.30 447.24Z" fill="#6a2a98"/>
<path d="M219.26 442.07L221.46 444.27L219.26 446.47L217.06 444.27Z" fill="#6a2a98"/>
<path d="M228.01 437.62L230.21 439.82L228.01 442.02L225.81 439.82Z" fill="#6a2a98"/>
<path d="M236.77 432.75L238.97 434.95L236.77 437.15L234.57 434.95Z" fill="#6a2a98"/>
<path d="M245.52 434.23L247.72 436.43L245.52 438.63L243.32 436.43Z" fill="#6a2a98"/>
<path d="M254.28 435.93L256.48 438.12L254.28 440.32L252.08 438.12Z" fill="#6a2a98"/>
<path d="M263.03 435.93L265.23 438.12L263.03 440.32L260.83 438.12Z" fill="#6a2a98"/>
<path d="M271.79 432.53L273.99 434.73L271.79 436.93L269.59 434.73Z" fill="#6a2a98"/>
<path d="M280.54 435.93L282.74 438.12L280.54 440.32L278.34 438.12Z" fill="#6a2a98"/>
<path d="M289.30 435.08L291.50 437.28L289.30 439.48L287.10 437.28Z" fill="#6a2a98"/>
<path d="M298.05 434.23L300.25 436.43L298.05 438.63L295.85 436.43Z" fill="#6a2a98"/>
<path d="M306.81 432.53L309.01 434.73L306.81 436.93L304.61 434.73Z" fill="#6a2a98"/>
<path d="M315.56 433.38L317.76 435.58L315.56 437.78L313.36 435.58Z" fill="#6a2a98"/>
<path d="M324.32 429.78L326.52 431.98L324.32 434.18L322.12 431.98Z" fill="#6a2a98"/>
<path d="M333.07 431.05L335.27 433.25L333.07 435.45L330.87 433.25Z" fill="#6a2a98"/>
<path d="M341.83 435.93L344.03 438.12L341.83 440.32L339.63 438.12Z" fill="#6a2a98"/>
<path d="M350.58 445.04L352.78 447.24L350.58 449.44L348.38 447.24Z" fill="#6a2a98"/>
<path d="M359.34 443.77L361.54 445.97L359.34 448.17L357.14 445.97Z" fill="#6a2a98"/>
<path d="M368.09 435.93L370.29 438.12L368.09 440.32L365.89 438.12Z" fill="#6a2a98"/>
<path d="M376.85 445.46L379.05 447.66L376.85 449.86L374.65 447.66Z" fill="#6a2a98"/>
<path d="M385.60 432.32L387.80 434.52L385.60 436.72L383.40 434.52Z" fill="#6a2a98"/>
<path d="M394.36 357.10L396.56 359.30L394.36 361.50L392.16 359.30Z" fill="#6a2a98"/>
<path d="M403.11 305.61L405.31 307.81L403.11 310.01L400.91 307.81Z" fill="#6a2a98"/>
<path d="M411.87 375.75L414.07 377.95L411.87 380.15L409.67 377.95Z" fill="#6a2a98"/>
<path d="M420.62 400.96L422.82 403.16L420.62 405.36L418.42 403.16Z" fill="#6a2a98"/>
<path d="M429.38 427.87L431.58 430.07L429.38 432.27L427.18 430.07Z" fill="#6a2a98"/>
<path d="M438.13 448.22L440.33 450.42L438.13 452.62L435.93 450.42Z" fill="#6a2a98"/>
<path d="M446.89 447.16L449.09 449.36L446.89 451.56L444.69 449.36Z" fill="#6a2a98"/>
<path d="M455.64 447.37L457.84 449.57L455.64 451.77L453.44 449.57Z" fill="#6a2a98"/>
<path d="M464.40 459.66L466.60 461.86L464.40 464.06L462.20 461.86Z" fill="#6a2a98"/>
<path d="M473.15 459.87L475.35 462.07L473.15 464.27L470.95 462.07Z" fill="#6a2a98"/>
<path d="M481.91 448.22L484.11 450.42L481.91 452.62L479.71 450.42Z" fill="#6a2a98"/>
<path d="M490.66 396.30L492.86 398.50L490.66 400.70L488.46 398.50Z" fill="#6a2a98"/>
<path d="M499.42 333.15L501.62 335.35L499.42 337.55L497.22 335.35Z" fill="#6a2a98"/>
<path d="M508.17 302.85L510.37 305.05L508.17 307.25L505.97 305.05Z" fill="#6a2a98"/>
<path d="M516.93 325.10L519.13 327.30L516.93 329.50L514.73 327.30Z" fill="#6a2a98"/>
<path d="M525.68 365.15L527.88 367.35L525.68 369.55L523.48 367.35Z" fill="#6a2a98"/>
<path d="M534.44 396.09L536.64 398.29L534.44 400.49L532.24 398.29Z" fill="#6a2a98"/>
<polyline points="79.18,422.02 87.93,426.68 96.69,418.63 105.44,422.66 114.20,416.30 122.95,417.99 131.71,404.43 140.46,402.95 149.22,409.09 157.97,410.37 166.73,413.54 175.48,419.05 184.24,425.41 192.99,428.80 201.75,430.92 210.50,432.19 219.26,433.68 228.01,432.83 236.77,432.19 245.52,432.40 254.28,433.25 263.03,433.68 271.79,430.50 280.54,427.11 289.30,424.35 298.05,421.17 306.81,423.72 315.56,429.01 324.32,413.33 333.07,401.47 341.83,393.41 350.58,383.67" fill="none" stroke="#d81c1c" stroke-width="2.9" stroke-linejoin="round"/>
<path d="M79.18 419.82L81.38 422.02L79.18 424.22L76.98 422.02Z" fill="#b81010"/>
<path d="M87.93 424.48L90.13 426.68L87.93 428.88L85.73 426.68Z" fill="#b81010"/>
<path d="M96.69 416.43L98.89 418.63L96.69 420.83L94.49 418.63Z" fill="#b81010"/>
<path d="M105.44 420.46L107.64 422.66L105.44 424.86L103.24 422.66Z" fill="#b81010"/>
<path d="M114.20 414.10L116.40 416.30L114.20 418.50L112.00 416.30Z" fill="#b81010"/>
<path d="M122.95 415.79L125.15 417.99L122.95 420.19L120.75 417.99Z" fill="#b81010"/>
<path d="M131.71 402.23L133.91 404.43L131.71 406.63L129.51 404.43Z" fill="#b81010"/>
<path d="M140.46 400.75L142.66 402.95L140.46 405.15L138.26 402.95Z" fill="#b81010"/>
<path d="M149.22 406.89L151.42 409.09L149.22 411.29L147.02 409.09Z" fill="#b81010"/>
<path d="M157.97 408.17L160.17 410.37L157.97 412.57L155.77 410.37Z" fill="#b81010"/>
<path d="M166.73 411.34L168.93 413.54L166.73 415.74L164.53 413.54Z" fill="#b81010"/>
<path d="M175.48 416.85L177.68 419.05L175.48 421.25L173.28 419.05Z" fill="#b81010"/>
<path d="M184.24 423.21L186.44 425.41L184.24 427.61L182.04 425.41Z" fill="#b81010"/>
<path d="M192.99 426.60L195.19 428.80L192.99 431.00L190.79 428.80Z" fill="#b81010"/>
<path d="M201.75 428.72L203.95 430.92L201.75 433.12L199.55 430.92Z" fill="#b81010"/>
<path d="M210.50 429.99L212.70 432.19L210.50 434.39L208.30 432.19Z" fill="#b81010"/>
<path d="M219.26 431.48L221.46 433.68L219.26 435.88L217.06 433.68Z" fill="#b81010"/>
<path d="M228.01 430.63L230.21 432.83L228.01 435.03L225.81 432.83Z" fill="#b81010"/>
<path d="M236.77 429.99L238.97 432.19L236.77 434.39L234.57 432.19Z" fill="#b81010"/>
<path d="M245.52 430.20L247.72 432.40L245.52 434.60L243.32 432.40Z" fill="#b81010"/>
<path d="M254.28 431.05L256.48 433.25L254.28 435.45L252.08 433.25Z" fill="#b81010"/>
<path d="M263.03 431.48L265.23 433.68L263.03 435.88L260.83 433.68Z" fill="#b81010"/>
<path d="M271.79 428.30L273.99 430.50L271.79 432.70L269.59 430.50Z" fill="#b81010"/>
<path d="M280.54 424.91L282.74 427.11L280.54 429.31L278.34 427.11Z" fill="#b81010"/>
<path d="M289.30 422.15L291.50 424.35L289.30 426.55L287.10 424.35Z" fill="#b81010"/>
<path d="M298.05 418.97L300.25 421.17L298.05 423.37L295.85 421.17Z" fill="#b81010"/>
<path d="M306.81 421.52L309.01 423.72L306.81 425.92L304.61 423.72Z" fill="#b81010"/>
<path d="M315.56 426.81L317.76 429.01L315.56 431.21L313.36 429.01Z" fill="#b81010"/>
<path d="M324.32 411.13L326.52 413.33L324.32 415.53L322.12 413.33Z" fill="#b81010"/>
<path d="M333.07 399.27L335.27 401.47L333.07 403.67L330.87 401.47Z" fill="#b81010"/>
<path d="M341.83 391.21L344.03 393.41L341.83 395.61L339.63 393.41Z" fill="#b81010"/>
<path d="M350.58 381.47L352.78 383.67L350.58 385.87L348.38 383.67Z" fill="#b81010"/>
<path d="M496.5 384.3H502.1M499.3 381.5V387.1" stroke="#aaa" stroke-width="0.8"/>
</svg>
</body></html>
